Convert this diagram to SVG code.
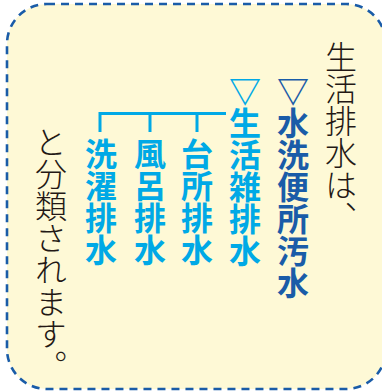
<svg xmlns="http://www.w3.org/2000/svg" width="382" height="392" viewBox="0 0 382 392">
<style>
.v{writing-mode:vertical-rl;font-family:"Noto Sans CJK JP","Noto Sans CJK SC",sans-serif;font-size:32px}
.plain{fill:#231815;font-weight:300}
.dark{fill:#1a5ca8;font-weight:700}
.light{fill:#00a9e6;font-weight:700}
.br{stroke:#00a9e6;stroke-width:3;fill:none}
</style>
<rect id="frame" x="7" y="4" width="379" height="385" rx="40" ry="40" fill="#fef9d6" stroke="#1a5ca8" stroke-width="2.6" stroke-dasharray="8 6"/>
<g id="intro"><text class="v plain" x="341" y="41">生活排水は、</text></g>
<g id="blackwater"><text class="v dark" x="293" y="75">▽水洗便所汚水</text></g>
<g id="greywater"><text class="v light" x="245" y="75">▽生活雑排水</text></g>
<g id="kitchen"><text class="v light" x="197" y="138">台所排水</text></g>
<g id="bath"><text class="v light" x="150" y="138">風呂排水</text></g>
<g id="laundry"><text class="v light" x="101" y="138">洗濯排水</text></g>
<g id="outro"><text class="v plain" x="51" y="126">と分類されます。</text></g>
<g id="connectors">
<path class="br" d="M226 113.5H100V132M150 113.5V132M197 113.5V132"/>
</g>
</svg>
